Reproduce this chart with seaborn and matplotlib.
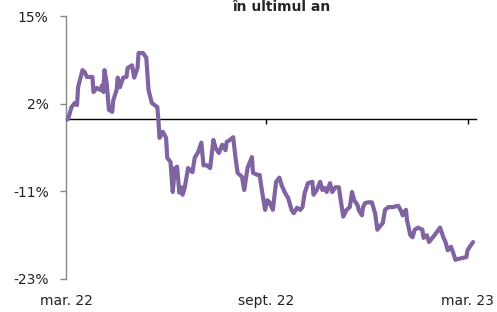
import pandas as pd
import seaborn as sns
import matplotlib.pyplot as plt

sns.set_style("white")
plt.rcParams['font.family'] = ['DejaVu Sans']

# days since mid-March 2022, change in % over the last year
days = [0, 2, 5, 8, 10, 11, 15, 17, 19, 24, 25, 28, 31, 33, 34, 35, 37, 39, 42, 43,
        46, 47, 49, 52, 55, 56, 60, 62, 65, 66, 70, 73, 75, 78, 83, 84, 85, 88, 91, 92,
        95, 97, 99, 101, 103, 105, 106, 108, 111, 115, 117, 120, 123, 125, 128, 131, 134, 136, 139, 142,
        145, 146, 149, 152, 154, 156, 160, 162, 165, 169, 170, 174, 176, 178, 181, 183, 185, 188, 191, 194,
        196, 199, 202, 205, 207, 210, 213, 215, 217, 220, 224, 225, 228, 231, 233, 235, 237, 240, 242, 245,
        248, 252, 255, 258, 260, 262, 265, 266, 269, 270, 272, 275, 278, 281, 283, 285, 288, 290, 293, 297,
        302, 305, 306, 309, 310, 313, 315, 317, 320, 324, 325, 328, 330, 333, 335, 340, 343, 345, 347, 350,
        352, 354, 356, 361, 364, 365, 367, 370]
values = [-0.2, 0.0, 1.7, 2.3, 2.0, 4.6, 7.1, 6.8, 6.1, 6.1, 3.9, 4.5, 4.2, 4.9, 3.9, 7.1, 5.2, 1.3, 1.0, 2.7,
          4.2, 6.0, 4.6, 6.0, 6.1, 7.4, 7.8, 6.0, 7.4, 9.6, 9.6, 8.9, 4.2, 2.3, 1.7, -0.2, -2.8, -1.9, -2.8, -5.7,
          -6.3, -10.7, -7.2, -7.0, -10.8, -10.0, -11.1, -10.0, -7.2, -7.8, -5.7, -4.9, -3.5, -6.8, -6.8, -7.2, -3.1, -4.3, -5.0, -3.8,
          -4.6, -3.4, -3.1, -2.7, -5.6, -7.9, -8.5, -10.4, -7.2, -5.6, -7.9, -8.2, -8.2, -10.4, -13.3, -11.9, -12.2, -13.3, -9.2, -8.6,
          -9.7, -10.8, -11.6, -13.3, -13.8, -13.0, -13.3, -12.9, -10.8, -9.4, -9.2, -11.1, -10.4, -9.2, -10.4, -10.1, -10.7, -9.4, -10.7, -10.0,
          -10.0, -14.3, -13.3, -12.9, -10.7, -11.9, -12.6, -13.3, -14.1, -12.9, -12.3, -12.2, -12.2, -13.8, -16.2, -15.8, -15.2, -13.3, -12.9, -12.9,
          -12.7, -13.6, -14.1, -13.3, -14.8, -17.0, -17.3, -16.2, -15.9, -16.2, -17.4, -17.0, -18.0, -17.4, -17.0, -15.9, -17.3, -18.0, -19.2, -18.7,
          -19.6, -20.6, -20.5, -20.3, -20.2, -19.2, -18.7, -18.0]

x_ticks = [0, 182, 365]
x_labels = ["mar. 22", "sept. 22", "mar. 23"]
y_ticks = [15, 2.2, -10.6, -23.4]
y_labels = ["15%", "2%", "-11%", "-23%"]

df = pd.DataFrame({"day": days, "value": values})

fig = plt.figure(figsize=(4.97, 3.12), dpi=100)
ax = fig.add_axes([66 / 497, 1 - 279 / 312, 410 / 497, 263 / 312])

sns.lineplot(data=df, x="day", y="value", ax=ax, color="#8064A2",
             linewidth=3, estimator=None, zorder=3)

ax.set_xlim(0, 372.7)
ax.set_ylim(-23.4, 15)
for s in ["top", "right", "bottom"]:
    ax.spines[s].set_visible(False)
ax.spines["left"].set_color("#868686")
ax.spines["left"].set_linewidth(1)

ax.set_yticks(y_ticks, y_labels)
ax.tick_params(axis="y", left=True, direction="out", length=4.5, width=1,
               color="#868686", pad=8, labelsize=10, labelcolor="#222222")
ax.set_xticks(x_ticks, x_labels)
ax.tick_params(axis="x", bottom=False, length=0, pad=11, labelsize=10, labelcolor="#222222")
ax.set_xlabel("")
ax.set_ylabel("")

# zero line with tick marks
zero = ax.secondary_xaxis(0, transform=ax.transData)
zero.set_xticks(x_ticks[1:])
zero.tick_params(bottom=True, direction="out", length=3.5, width=1,
                 color="black", labelbottom=False)
zero.spines["bottom"].set_color("black")
zero.spines["bottom"].set_linewidth(1)

fig.text(281 / 497, 1 - 11 / 312, "în ultimul an", fontweight="bold",
         ha="center", va="baseline", fontsize=10)

fig.savefig("out.png", dpi=100)
